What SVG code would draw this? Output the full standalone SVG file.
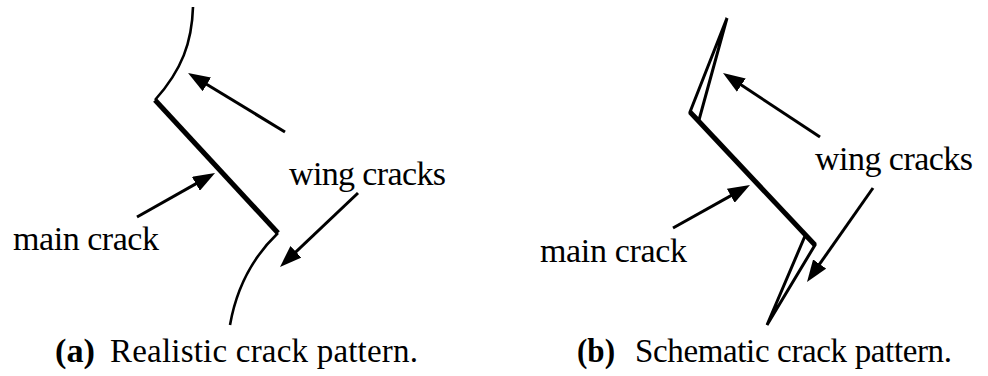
<svg xmlns="http://www.w3.org/2000/svg" width="988" height="376" viewBox="0 0 988 376">
<style>
.lbl{font-family:"Liberation Serif","Times New Roman",serif;font-size:34px;fill:#000}
.cap{font-family:"Liberation Serif","Times New Roman",serif;font-size:33px;fill:#000}
.capb{font-family:"Liberation Serif","Times New Roman",serif;font-size:33px;font-weight:bold;fill:#000}
.thin{fill:none;stroke:#000;stroke-width:2.6}
.thick{fill:none;stroke:#000;stroke-width:5;stroke-linecap:butt}
.wing{fill:none;stroke:#000;stroke-width:3;stroke-linejoin:miter}
.arr{fill:none;stroke:#000;stroke-width:3;marker-end:url(#ah)}
</style>
<defs>
<marker id="ah" markerUnits="userSpaceOnUse" markerWidth="22" markerHeight="16" viewBox="0 0 22 16" refX="10" refY="8" orient="auto">
<path d="M0,0 L22,8 L0,16 z" fill="#000"/>
</marker>
</defs>
<rect width="988" height="376" fill="#fff"/>
<g id="panel-a">
<g id="crack-a">
<path class="thin" d="M193,7 C192,42 182,70 155,100"/>
<path class="thick" d="M155,100 L278,233"/>
<path class="thin" d="M278,233 C255,255 237,285 230,325"/>
</g>
<g id="label-main-a"><text class="lbl" x="13" y="250" textLength="146">main crack</text></g>
<g id="label-wing-a"><text class="lbl" x="289" y="185" textLength="157">wing cracks</text></g>
<g id="caption-a"><text class="capb" x="55" y="362" textLength="40" lengthAdjust="spacingAndGlyphs">(a)</text><text class="cap" x="110" y="362" textLength="308">Realistic crack pattern.</text></g>
</g>
<g id="panel-b">
<g id="crack-b">
<path class="wing" d="M727,18 L690,112 L699,120 Z"/>
<path class="thick" d="M690,112 L815,245"/>
<path class="wing" d="M767,325 L815,245 L805,236 Z"/>
</g>
<g id="label-main-b"><text class="lbl" x="540" y="262" textLength="147">main crack</text></g>
<g id="label-wing-b"><text class="lbl" x="815" y="170" textLength="158">wing cracks</text></g>
<g id="caption-b"><text class="capb" x="577" y="362" textLength="38" lengthAdjust="spacingAndGlyphs">(b)</text><text class="cap" x="635" y="362" textLength="317">Schematic crack pattern.</text></g>
</g>
<g id="connectors">
<line class="arr" x1="285" y1="132" x2="198.3" y2="79.2"/>
<line class="arr" x1="137" y1="217" x2="204.6" y2="178.9"/>
<line class="arr" x1="358" y1="193" x2="288.7" y2="258.7"/>
<line class="arr" x1="820" y1="137" x2="733" y2="79.6"/>
<line class="arr" x1="673" y1="228" x2="739.5" y2="190.9"/>
<line class="arr" x1="873" y1="188" x2="813.9" y2="272.2"/>
</g>
</svg>
